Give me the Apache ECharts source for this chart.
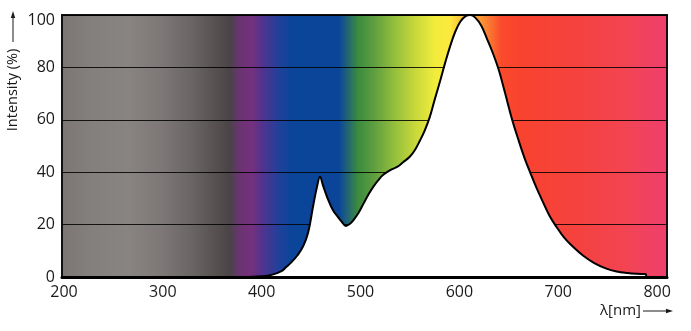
<!DOCTYPE html>
<html>
<head>
<meta charset="utf-8">
<style>
  html, body { margin: 0; padding: 0; background: #fff; }
  #main { width: 691px; height: 331px; }
</style>
<script src="https://cdn.jsdelivr.net/npm/echarts@6/dist/echarts.min.js"></script>
</head>
<body>
<div id="main"></div>
<script>
// spectrum: wavelength (nm) and relative intensity (%)
var wavelengths = [380, 400, 410, 420, 425, 430, 436, 442, 447, 452, 456, 459, 462, 466, 472, 478, 481, 485, 489, 493, 498,
  503, 508, 513, 518, 523, 530, 537, 543, 550, 555, 560, 565, 570, 575, 581, 586, 591, 596, 601, 606,
  611, 616, 622, 628, 634, 640, 646, 653, 660, 666, 672, 678, 685, 691, 697, 706, 715, 725, 736, 748,
  759, 770, 780, 788, 789]
var intensity = [0, 0.3, 0.8, 2.2, 3.9, 5.6, 8.2, 11.8, 17, 27, 34.5, 38.3, 35, 30.7, 25.6, 22.5, 21.1, 19.5, 20.2, 21.8, 24.5,
  28, 31.5, 34.5, 37, 39, 40.8, 42, 43.8, 46, 48.5, 52, 56, 61, 67.7, 75.5, 82.3, 88.5, 93.8, 97.5, 99.5,
  100, 99, 96, 90.8, 85.3, 78.8, 70.5, 60.5, 52, 45.3, 39.5, 34, 28.2, 23.5, 19.8, 15, 11.5, 8.2, 5.4, 3.3,
  2.1, 1.5, 1.2, 1.1, 0]
var xTicks = [200, 300, 400, 500, 600, 700, 800]

var xMin = 198, xMax = 810

// background colour band across the wavelength axis
var bandStops = [
  [198, '#7b7674'], [230, '#84807e'], [265, '#888482'], [300, '#7d7877'], [330, '#6a6565'],
  [355, '#55504f'], [368, '#4a4447'], [378, '#6a3470'], [390, '#75307e'], [402, '#4e3490'],
  [418, '#20409a'], [430, '#0a4599'], [478, '#0a4599'], [486, '#1f607a'], [497, '#3a8a3e'],
  [515, '#62a040'], [535, '#95c03c'], [555, '#c8d83a'], [575, '#f2ec3c'], [590, '#fde93e'],
  [602, '#fcc03a'], [620, '#fb9a34'], [632, '#fa7030'], [642, '#fb4a2b'], [660, '#f8432f'],
  [720, '#f5423f'], [770, '#f24454'], [810, '#ee3f6e']
]

var myChart = echarts.init(document.getElementById('main'))

var points = wavelengths.map(function (w, i) { return [w, intensity[i]] })
var gradient = new echarts.graphic.LinearGradient(0, 0, 1, 0, bandStops.map(function (s) {
  return { offset: (s[0] - xMin) / (xMax - xMin), color: s[1] }
}))

var labelFont = { color: '#1a1a1a', fontSize: 16, fontFamily: 'Open Sans' }

myChart.setOption({
  animation: false,
  grid: {
    left: 62,
    right: 24,
    top: 15,
    bottom: 54,
    show: true,
    backgroundColor: gradient,
    borderColor: '#111',
    borderWidth: 2
  },
  xAxis: {
    type: 'value',
    min: xMin,
    max: xMax,
    z: 5,
    axisLine: { show: true, onZero: false, lineStyle: { color: '#000', width: 3 } },
    axisTick: { show: false },
    splitLine: { show: false },
    axisLabel: Object.assign({ customValues: xTicks, margin: 7 }, labelFont)
  },
  yAxis: {
    type: 'value',
    min: 0,
    max: 100,
    interval: 20,
    axisLine: { show: false },
    axisTick: { show: false },
    splitLine: { lineStyle: { color: 'rgba(0,0,0,0.85)', width: 1.2 } },
    axisLabel: Object.assign({
      margin: 7,
      formatter: function (v) { return v === 100 ? '{t|100}' : String(v) },
      rich: { t: { color: '#1a1a1a', fontSize: 16, fontFamily: 'Open Sans', padding: [10, 0, 0, 0] } }
    }, labelFont)
  },
  series: [{
    type: 'line',
    data: points,
    showSymbol: false,
    smooth: 0.4,
    z: 2,
    lineStyle: { color: '#000', width: 2 },
    areaStyle: { color: '#fff', opacity: 1 }
  }],
  graphic: [
    {
      type: 'text', x: 13, y: 90, rotation: Math.PI / 2,
      style: { text: 'Intensity (%)', align: 'center', verticalAlign: 'middle', fill: '#1a1a1a', fontSize: 14.5, fontFamily: 'Open Sans' }
    },
    { type: 'line', shape: { x1: 13, y1: 42, x2: 13, y2: 17 }, style: { stroke: '#1a1a1a', lineWidth: 1 } },
    { type: 'polygon', shape: { points: [[13, 11], [10.8, 18], [15.2, 18]] }, style: { fill: '#1a1a1a' } },
    {
      type: 'text', x: 600, y: 311,
      style: { text: 'λ[nm]', align: 'left', verticalAlign: 'middle', fill: '#1a1a1a', fontSize: 15, fontFamily: 'Open Sans' }
    },
    { type: 'line', shape: { x1: 643, y1: 311, x2: 667, y2: 311 }, style: { stroke: '#1a1a1a', lineWidth: 1 } },
    { type: 'polygon', shape: { points: [[673, 311], [666, 308.8], [666, 313.2]] }, style: { fill: '#1a1a1a' } }
  ]
})
</script>
</body>
</html>
